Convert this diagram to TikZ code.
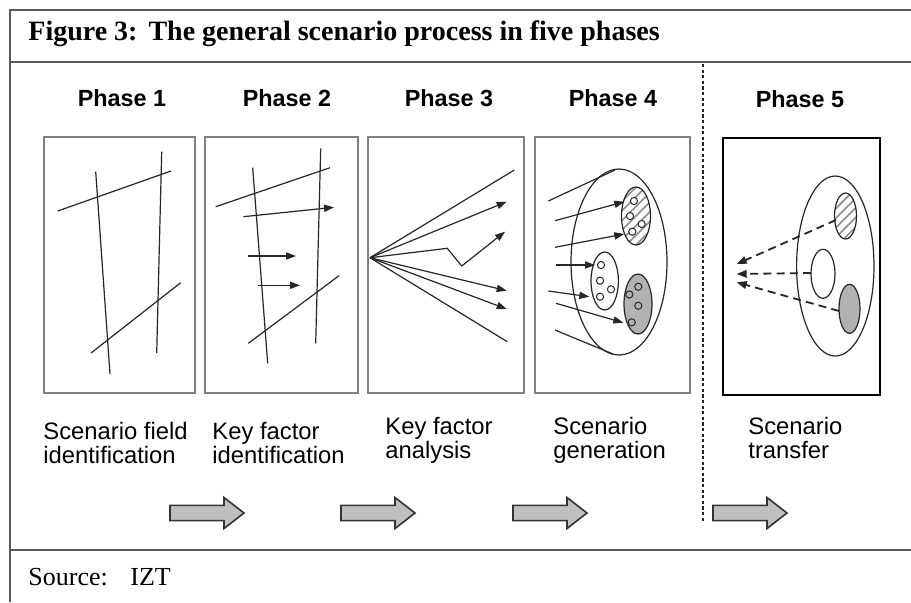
\documentclass[tikz,border=0pt]{standalone}
\usepackage{fontspec}
\setmainfont{Liberation Serif}
\setsansfont{Liberation Sans}
\usetikzlibrary{arrows.meta,patterns.meta}

\definecolor{frameline}{gray}{0.35}
\definecolor{panelline}{gray}{0.5}
\definecolor{inkline}{gray}{0.15}
\definecolor{blockfill}{gray}{0.75}
\definecolor{blockline}{gray}{0.2}
\definecolor{ellgray}{gray}{0.7}
\definecolor{hatchgray}{gray}{0.55}

\tikzset{
  framerule/.style={draw=frameline, line width=1pt},
  panel/.style={draw=panelline, line width=0.8pt},
  panelfive/.style={draw=black, line width=0.8pt},
  ink/.style={draw=inkline, line width=0.6pt},
  inkarrow/.style={ink, -{Triangle[length=5pt,width=3.6pt]}},
  transfer/.style={draw=inkline, line width=0.9pt, dash pattern=on 4pt off 2.6pt,
    -{Triangle[length=5pt,width=3.8pt]}},
  cluster/.style={draw=inkline, line width=0.6pt},
  hatched/.style={cluster, pattern={Lines[angle=45,distance=3.4pt,line width=0.8pt]},
    pattern color=hatchgray},
  shaded/.style={cluster, fill=ellgray},
  dot/.style={draw=inkline, line width=0.5pt},
  phaselabel/.style={anchor=base, inner sep=0pt,
    font=\sffamily\bfseries\fontsize{11.7}{14}\selectfont},
  caption/.style={anchor=base west, inner sep=0pt,
    font=\sffamily\fontsize{11.9}{12}\selectfont},
  blockarrow/.pic={
    \draw[fill=blockfill, draw=blockline, line width=0.8pt, line join=miter]
      (0,-7.6) -- (54,-7.6) -- (54,-15.5) -- (74,0) -- (54,15.5) -- (54,7.6)
      -- (0,7.6) -- cycle;
  }
}

\newcommand{\captext}[2]{\begin{tabular}[t]{@{}l@{}}#1\\#2\end{tabular}}

\begin{document}
\begin{tikzpicture}[x=0.5pt,y=-0.5pt]
\useasboundingbox (0,0) rectangle (911,602);
\fill[white] (0,0) rectangle (911,602);

% outer frame, heading rule and footer rule
\draw[framerule] (911,10) -- (10,10) -- (10,602);
\draw[framerule] (10,62) -- (911,62);
\draw[framerule] (10,550) -- (911,550);

% heading and source line
\node[anchor=base west, inner sep=0pt, font=\bfseries\fontsize{14}{16}\selectfont]
  (title) at (28,40) {Figure 3:\hspace{5.5pt}The general scenario process in five phases};
\node[anchor=base west, inner sep=0pt, font=\fontsize{13}{15}\selectfont]
  (source) at (28,585) {Source:\hspace{11.3pt}IZT};

% dotted separator before the last phase
\draw[inkline, line width=0.7pt, dash pattern=on 1.6pt off 1.2pt] (703,64) -- (703,521);

% phase headings
\node[phaselabel] (ph1) at (122,106) {Phase 1};
\node[phaselabel] (ph2) at (287,106) {Phase 2};
\node[phaselabel] (ph3) at (449,106) {Phase 3};
\node[phaselabel] (ph4) at (613,106) {Phase 4};
\node[phaselabel] (ph5) at (800,107) {Phase 5};

% panels
\draw[panel] (44,137) rectangle (195,393);
\draw[panel] (205,137) rectangle (358,393);
\draw[panel] (368,137) rectangle (524,393);
\draw[panel] (535,137) rectangle (690,393);
\draw[panelfive] (723,138) rectangle (880,395);

% phase 1: scenario field
\draw[ink] (57.7,211) -- (171,171);
\draw[ink] (95.7,171.7) -- (110,374);
\draw[ink] (161.7,151.7) -- (156.7,353);
\draw[ink] (91,353) -- (180.7,282.7);

% phase 2: key factors
\draw[ink] (215.7,206.7) -- (330,167.7);
\draw[ink] (252.7,167.7) -- (267.7,363.3);
\draw[ink] (320.7,148.3) -- (315.7,343.3);
\draw[ink] (248.3,343.3) -- (339,275.7);
\draw[inkarrow] (243.3,216.7) -- (334,207.3);
\draw[inkarrow] (248.3,256) -- (296,256);
\draw[inkarrow] (257.7,285.3) -- (300,285.3);

% phase 3: key factor analysis fan
\coordinate (fan) at (370,257.7);
\draw[ink] (fan) -- (514.3,170);
\draw[inkarrow] (fan) -- (506.7,201.7);
\draw[inkarrow] (fan) -- (447.3,248.3) -- (461.7,266) -- (505,231.7);
\draw[inkarrow] (fan) -- (506.7,290.7);
\draw[inkarrow] (fan) -- (506.7,309);
\draw[ink] (fan) -- (507.3,341.7);

% phase 4: scenario generation
\draw[ink] (548.3,201) -- (615,170);
\draw[ink] (555,330) -- (613,354);
\draw[cluster] (619,262) ellipse [x radius=48, y radius=93];
\draw[hatched] (636,216) ellipse [x radius=14.5, y radius=29];
\draw[cluster] (604.7,281) ellipse [x radius=13.7, y radius=29];
\draw[shaded] (638,304) ellipse [x radius=14, y radius=30];
\foreach \p in {(634,201),(630,216),(632.3,231.7),(641.7,224)}
  \draw[dot, fill=white] \p circle [radius=3.6];
\foreach \p in {(601,265),(600,280.7),(611,289.3),(600,296.7)}
  \draw[dot] \p circle [radius=3.6];
\foreach \p in {(638.3,286.7),(629.3,294.5),(638.3,305.7),(631.7,322.3)}
  \draw[dot] \p circle [radius=3.6];
\draw[inkarrow] (555,220.7) -- (624.3,201.7);
\draw[inkarrow] (555,247.3) -- (624.3,234);
\draw[inkarrow] (556,265) -- (595,265);
\draw[inkarrow] (548.3,291) -- (589.3,296.7);
\draw[inkarrow] (556,303.3) -- (623.3,322.7);

% phase 5: scenario transfer
\draw[cluster] (835.3,266) ellipse [x radius=38.7, y radius=90];
\draw[hatched] (845.5,216) ellipse [x radius=11, y radius=23];
\draw[cluster] (823,273.8) ellipse [x radius=12, y radius=24.5];
\draw[shaded] (849.5,308.8) ellipse [x radius=10.5, y radius=24.5];
\draw[transfer] (836,220) -- (736.7,264);
\draw[transfer] (811,273) -- (736.7,274);
\draw[transfer] (839,311) -- (736.7,282.3);

% phase descriptions
\node[caption] (cap1) at (43,439) {\captext{Scenario field}{identification}};
\node[caption] (cap2) at (212,439) {\captext{Key factor}{identification}};
\node[caption] (cap3) at (385,434) {\captext{Key factor}{analysis}};
\node[caption] (cap4) at (553,434) {\captext{Scenario}{generation}};
\node[caption] (cap5) at (748,434) {\captext{Scenario}{transfer}};

% process arrows
\pic at (170,513) {blockarrow};
\pic at (341,513) {blockarrow};
\pic at (513,513) {blockarrow};
\pic at (713,513) {blockarrow};
\end{tikzpicture}
\end{document}
